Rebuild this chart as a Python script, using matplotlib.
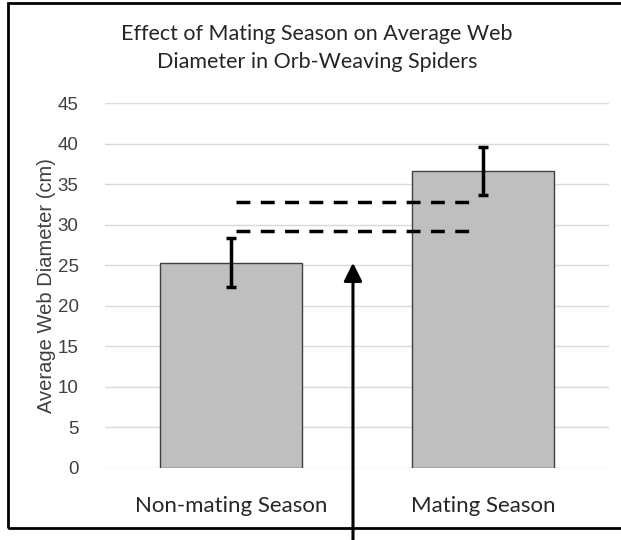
import matplotlib.pyplot as plt
from matplotlib.patches import Rectangle

# data
categories = ["Non-mating Season", "Mating Season"]
mean_diameter = [25.3, 36.6]
error = [3.0, 3.0]
dashed_levels = [32.8, 29.2]
dashed_span = [0.02, 0.95]
arrow_x = 0.484
arrow_tip = 25.3

fig = plt.figure(figsize=(6.21, 5.40), dpi=100)
ax = fig.add_axes([105 / 621, 72 / 540, 504 / 621, 365 / 540])

x = range(len(categories))
ax.bar(x, mean_diameter, width=0.56, color="#bfbfbf", edgecolor="#404040", linewidth=1, zorder=2)
ax.errorbar(x, mean_diameter, yerr=error, fmt="none", ecolor="black", elinewidth=2.5,
            capsize=3.5, capthick=2.5, zorder=3)

for lvl in dashed_levels:
    ax.plot(dashed_span, [lvl, lvl], color="black", lw=2.5, dashes=(4, 3), zorder=4)

ax.annotate("", xy=(arrow_x, arrow_tip), xycoords="data",
            xytext=(353 / 621, 0), textcoords="figure fraction",
            arrowprops=dict(arrowstyle="-|>,head_length=1.1,head_width=0.55", lw=2.2,
                            color="black", shrinkA=0, shrinkB=0),
            annotation_clip=False, zorder=5)

ax.set_xlim(-0.5, 1.5)
ax.set_ylim(0, 45)
ax.set_yticks(range(0, 46, 5))
ax.grid(axis="y", color="#d9d9d9", lw=1, zorder=0)
ax.set_axisbelow(True)
for s in ax.spines.values():
    s.set_visible(False)
ax.tick_params(axis="both", length=0)
ax.tick_params(axis="y", pad=19, labelsize=13.5, labelcolor="#404040")
for lab in ax.get_yticklabels():
    lab.set_fontfamily("Liberation Sans")
ax.set_xticks(list(x))
ax.set_xticklabels(categories, fontsize=16, color="#262626", family="Lato")
ax.tick_params(axis="x", pad=20)
ax.set_ylabel("Average Web Diameter (cm)", fontsize=14.5, color="#404040",
              family="Liberation Sans", labelpad=1)

fig.text(317 / 621, 1 - 48 / 540, "Effect of Mating Season on Average Web\nDiameter in Orb-Weaving Spiders",
         ha="center", va="center", fontsize=15.5, color="#262626", family="Lato", linespacing=1.45)

fig.add_artist(Rectangle((8 / 621, 12 / 540), 1, 1 - 15 / 540, transform=fig.transFigure,
                         fill=False, edgecolor="black", lw=2, clip_on=False))

fig.savefig("out.png", dpi=100)
